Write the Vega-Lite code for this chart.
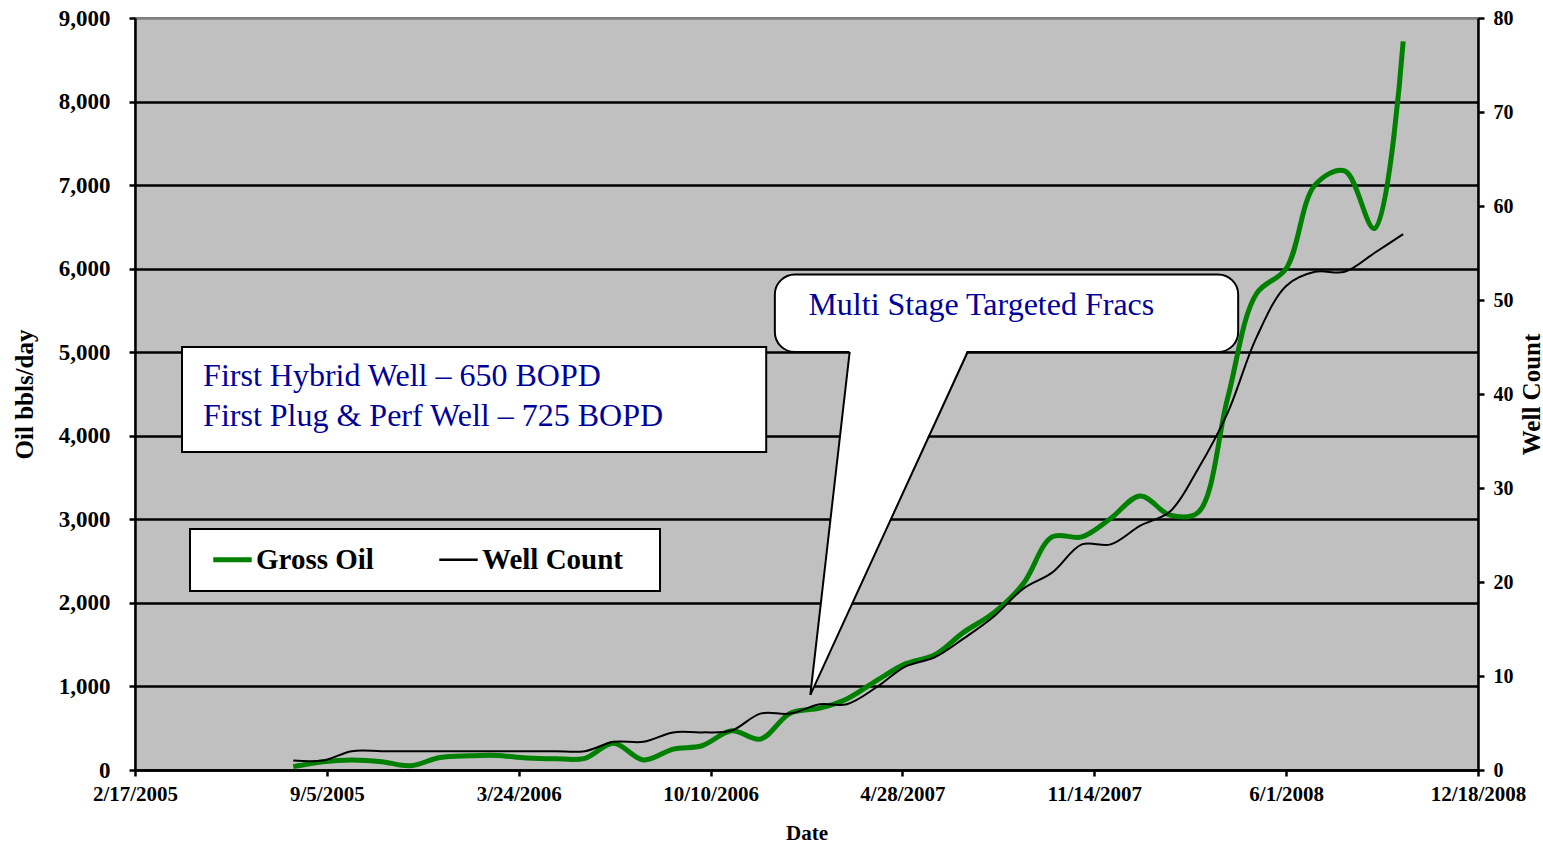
{
  "$schema": "https://vega.github.io/schema/vega-lite/v6.json",
  "autosize": {"type": "none"},
  "width": 1343,
  "height": 752,
  "padding": {"left": 135, "top": 18, "right": 65, "bottom": 75},
  "background": "white",
  "view": {"fill": "#C0C0C0", "stroke": "#808080", "strokeWidth": 2},
  "config": {
    "font": "Liberation Serif",
    "axis": {
      "labelFont": "Liberation Serif",
      "titleFont": "Liberation Serif",
      "labelFontWeight": "bold",
      "titleFontWeight": "bold",
      "labelColor": "black",
      "titleColor": "black",
      "domainColor": "black",
      "tickColor": "black",
      "domainWidth": 2.5,
      "tickWidth": 2.5,
      "tickSize": 6,
      "grid": false,
      "labelOverlap": false,
      "labelFlush": false
    }
  },
  "datasets": {
    "oil": [
      {"date": "2005-08-01", "value": 40, "series": "Gross Oil"},
      {"date": "2005-09-01", "value": 100, "series": "Gross Oil"},
      {"date": "2005-10-01", "value": 120, "series": "Gross Oil"},
      {"date": "2005-11-01", "value": 100, "series": "Gross Oil"},
      {"date": "2005-12-01", "value": 50, "series": "Gross Oil"},
      {"date": "2006-01-01", "value": 150, "series": "Gross Oil"},
      {"date": "2006-02-01", "value": 170, "series": "Gross Oil"},
      {"date": "2006-03-01", "value": 175, "series": "Gross Oil"},
      {"date": "2006-04-01", "value": 145, "series": "Gross Oil"},
      {"date": "2006-05-01", "value": 135, "series": "Gross Oil"},
      {"date": "2006-06-01", "value": 140, "series": "Gross Oil"},
      {"date": "2006-07-01", "value": 320, "series": "Gross Oil"},
      {"date": "2006-08-01", "value": 120, "series": "Gross Oil"},
      {"date": "2006-09-01", "value": 250, "series": "Gross Oil"},
      {"date": "2006-10-01", "value": 290, "series": "Gross Oil"},
      {"date": "2006-11-01", "value": 470, "series": "Gross Oil"},
      {"date": "2006-12-01", "value": 370, "series": "Gross Oil"},
      {"date": "2007-01-01", "value": 680, "series": "Gross Oil"},
      {"date": "2007-02-01", "value": 740, "series": "Gross Oil"},
      {"date": "2007-03-01", "value": 850, "series": "Gross Oil"},
      {"date": "2007-04-01", "value": 1070, "series": "Gross Oil"},
      {"date": "2007-05-01", "value": 1270, "series": "Gross Oil"},
      {"date": "2007-06-01", "value": 1380, "series": "Gross Oil"},
      {"date": "2007-07-01", "value": 1650, "series": "Gross Oil"},
      {"date": "2007-08-01", "value": 1880, "series": "Gross Oil"},
      {"date": "2007-09-01", "value": 2230, "series": "Gross Oil"},
      {"date": "2007-10-01", "value": 2790, "series": "Gross Oil"},
      {"date": "2007-11-01", "value": 2790, "series": "Gross Oil"},
      {"date": "2007-12-01", "value": 3010, "series": "Gross Oil"},
      {"date": "2008-01-01", "value": 3280, "series": "Gross Oil"},
      {"date": "2008-02-01", "value": 3050, "series": "Gross Oil"},
      {"date": "2008-03-01", "value": 3080, "series": "Gross Oil"},
      {"date": "2008-04-01", "value": 4450, "series": "Gross Oil"},
      {"date": "2008-05-01", "value": 5700, "series": "Gross Oil"},
      {"date": "2008-06-01", "value": 6000, "series": "Gross Oil"},
      {"date": "2008-07-01", "value": 7000, "series": "Gross Oil"},
      {"date": "2008-08-01", "value": 7170, "series": "Gross Oil"},
      {"date": "2008-09-01", "value": 6480, "series": "Gross Oil"},
      {"date": "2008-10-01", "value": 8720, "series": "Gross Oil"}
    ],
    "count": [
      {"date": "2005-08-01", "wells": 1, "series": "Well Count"},
      {"date": "2005-09-01", "wells": 1, "series": "Well Count"},
      {"date": "2005-10-01", "wells": 2, "series": "Well Count"},
      {"date": "2005-11-01", "wells": 2, "series": "Well Count"},
      {"date": "2005-12-01", "wells": 2, "series": "Well Count"},
      {"date": "2006-01-01", "wells": 2, "series": "Well Count"},
      {"date": "2006-02-01", "wells": 2, "series": "Well Count"},
      {"date": "2006-03-01", "wells": 2, "series": "Well Count"},
      {"date": "2006-04-01", "wells": 2, "series": "Well Count"},
      {"date": "2006-05-01", "wells": 2, "series": "Well Count"},
      {"date": "2006-06-01", "wells": 2, "series": "Well Count"},
      {"date": "2006-07-01", "wells": 3, "series": "Well Count"},
      {"date": "2006-08-01", "wells": 3, "series": "Well Count"},
      {"date": "2006-09-01", "wells": 4, "series": "Well Count"},
      {"date": "2006-10-01", "wells": 4, "series": "Well Count"},
      {"date": "2006-11-01", "wells": 4.2, "series": "Well Count"},
      {"date": "2006-12-01", "wells": 6, "series": "Well Count"},
      {"date": "2007-01-01", "wells": 6, "series": "Well Count"},
      {"date": "2007-02-01", "wells": 7, "series": "Well Count"},
      {"date": "2007-03-01", "wells": 7, "series": "Well Count"},
      {"date": "2007-04-01", "wells": 8.8, "series": "Well Count"},
      {"date": "2007-05-01", "wells": 11, "series": "Well Count"},
      {"date": "2007-06-01", "wells": 12, "series": "Well Count"},
      {"date": "2007-07-01", "wells": 14, "series": "Well Count"},
      {"date": "2007-08-01", "wells": 16.3, "series": "Well Count"},
      {"date": "2007-09-01", "wells": 19.3, "series": "Well Count"},
      {"date": "2007-10-01", "wells": 21, "series": "Well Count"},
      {"date": "2007-11-01", "wells": 24, "series": "Well Count"},
      {"date": "2007-12-01", "wells": 24, "series": "Well Count"},
      {"date": "2008-01-01", "wells": 26, "series": "Well Count"},
      {"date": "2008-02-01", "wells": 27.5, "series": "Well Count"},
      {"date": "2008-03-01", "wells": 32, "series": "Well Count"},
      {"date": "2008-04-01", "wells": 38, "series": "Well Count"},
      {"date": "2008-05-01", "wells": 46, "series": "Well Count"},
      {"date": "2008-06-01", "wells": 51.5, "series": "Well Count"},
      {"date": "2008-07-01", "wells": 53, "series": "Well Count"},
      {"date": "2008-08-01", "wells": 53, "series": "Well Count"},
      {"date": "2008-09-01", "wells": 55, "series": "Well Count"},
      {"date": "2008-10-01", "wells": 57, "series": "Well Count"}
    ]
  },
  "encoding": {
    "x": {
      "field": "date",
      "type": "temporal",
      "title": "Date",
      "scale": {
        "type": "utc",
        "nice": false,
        "domain": [
          {"year": 2005, "month": 2, "date": 17, "utc": true},
          {"year": 2008, "month": 12, "date": 18, "utc": true}
        ]
      },
      "axis": {
        "values": [
          {"year": 2005, "month": 2, "date": 17, "utc": true},
          {"year": 2005, "month": 9, "date": 5, "utc": true},
          {"year": 2006, "month": 3, "date": 24, "utc": true},
          {"year": 2006, "month": 10, "date": 10, "utc": true},
          {"year": 2007, "month": 4, "date": 28, "utc": true},
          {"year": 2007, "month": 11, "date": 14, "utc": true},
          {"year": 2008, "month": 6, "date": 1, "utc": true},
          {"year": 2008, "month": 12, "date": 18, "utc": true}
        ],
        "labelExpr": "utcFormat(datum.value, '%-m/%-d/%Y')",
        "labelFontSize": 21,
        "titleFontSize": 21,
        "labelPadding": 7,
        "titlePadding": 18
      }
    }
  },
  "layer": [
    {
      "encoding": {
        "y": {
          "field": "value",
          "type": "quantitative",
          "title": "Oil bbls/day",
          "scale": {"domain": [0, 9000], "nice": false},
          "axis": {
            "orient": "left",
            "values": [0, 1000, 2000, 3000, 4000, 5000, 6000, 7000, 8000, 9000],
            "format": ",d",
            "labelFontSize": 23,
            "titleFontSize": 25,
            "labelPadding": 19,
            "titlePadding": 21,
            "grid": true,
            "gridColor": {"condition": {"test": "datum.value >= 9000", "value": "#808080"}, "value": "black"},
            "gridWidth": 2.5
          }
        }
      },
      "layer": [
        {
          "data": {"name": "oil"},
          "mark": {"type": "line", "interpolate": "catmull-rom", "strokeWidth": 5},
          "encoding": {
            "color": {
              "field": "series",
              "type": "nominal",
              "scale": {"domain": ["Gross Oil", "Well Count"], "range": ["#008000", "#000000"]},
              "legend": {
                "title": "\u00a0",
                "titleOrient": "right",
                "titlePadding": 21,
                "titleFontSize": 29,
                "titleFont": "Liberation Serif",
                "orient": "none",
                "legendX": 55,
                "legendY": 511,
                "direction": "horizontal",
                "labelFont": "Liberation Serif",
                "labelFontWeight": "bold",
                "labelFontSize": 29,
                "labelColor": "black",
                "labelLimit": 400,
                "symbolType": "stroke",
                "symbolSize": 1480,
                "symbolOffset": 12,
                "strokeColor": "black",
                "fillColor": "white",
                "padding": 16,
                "columnPadding": 58,
                "labelOffset": 9,
                "encode": {
                  "legend": {"update": {"strokeWidth": {"value": 2}}},
                  "symbols": {"update": {"strokeWidth": {"signal": "datum.value === 'Gross Oil' ? 5 : 2.5"}}}
                }
              }
            }
          }
        },
        {
          "data": {"values": [
            {"date": "2005-04-07", "date2": "2006-12-07", "value": 3806, "value2": 5062}
          ]},
          "mark": {"type": "rect", "fill": "white", "stroke": "black", "strokeWidth": 2},
          "encoding": {"x2": {"field": "date2"}, "y2": {"field": "value2"}}
        },
        {
          "data": {"values": [
            {"date": "2006-12-16", "date2": "2008-04-12", "value": 5003, "value2": 5930}
          ]},
          "mark": {"type": "rect", "fill": "white", "stroke": "black", "strokeWidth": 2, "cornerRadius": 20},
          "encoding": {"x2": {"field": "date2"}, "y2": {"field": "value2"}}
        },
        {
          "data": {"values": [
            {"date": "2007-01-22", "date2": "2007-01-22", "value": 900},
            {"date": "2007-03-04", "date2": "2007-07-05", "value": 5040}
          ]},
          "mark": {"type": "area", "orient": "horizontal", "color": "white", "opacity": 1},
          "encoding": {"x2": {"field": "date2"}}
        },
        {
          "data": {"values": [
            {"date": "2007-01-22", "date2": "2007-03-04", "value": 900, "value2": 5003},
            {"date": "2007-01-22", "date2": "2007-07-05", "value": 900, "value2": 5003}
          ]},
          "mark": {"type": "rule", "color": "black", "strokeWidth": 2},
          "encoding": {"x2": {"field": "date2"}, "y2": {"field": "value2"}}
        },
        {
          "data": {"values": [
            {"date": "2005-04-29", "value": 4596, "label": "First Hybrid Well – 650 BOPD"},
            {"date": "2005-04-29", "value": 4117, "label": "First Plug & Perf Well – 725 BOPD"},
            {"date": "2007-01-20", "value": 5445, "label": "Multi Stage Targeted Fracs"}
          ]},
          "mark": {"type": "text", "font": "Liberation Serif", "fontSize": 32, "color": "#000099", "align": "left", "baseline": "alphabetic"},
          "encoding": {"text": {"field": "label"}}
        }
      ]
    },
    {
      "data": {"name": "count"},
      "mark": {"type": "line", "interpolate": "catmull-rom", "strokeWidth": 2},
      "encoding": {
        "y": {
          "field": "wells",
          "type": "quantitative",
          "title": "Well Count",
          "scale": {"domain": [0, 80], "nice": false},
          "axis": {
            "orient": "right",
            "values": [0, 10, 20, 30, 40, 50, 60, 70, 80],
            "labelFontSize": 20,
            "titleFontSize": 25,
            "labelPadding": 9,
            "titlePadding": 6,
            "titleAngle": 270,
            "titleBaseline": "top"
          }
        },
        "color": {"field": "series", "type": "nominal"}
      }
    }
  ],
  "resolve": {"scale": {"y": "independent"}}
}
